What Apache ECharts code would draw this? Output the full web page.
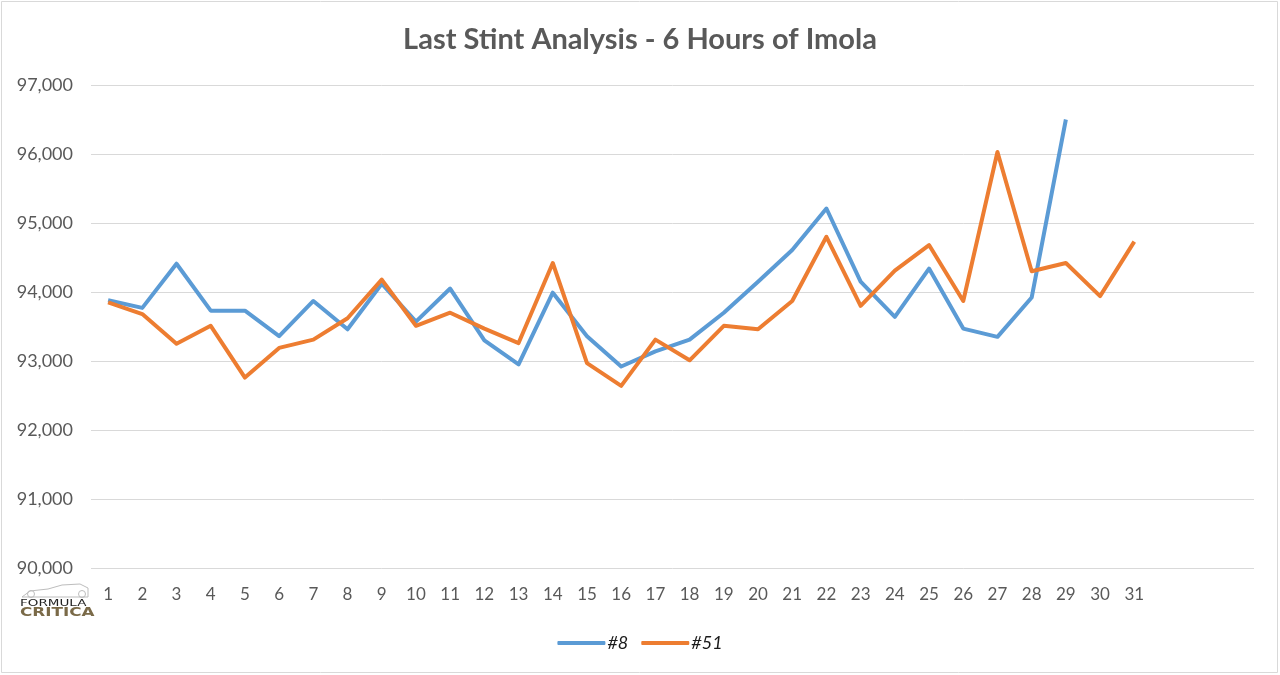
<!DOCTYPE html>
<html>
<head>
<meta charset="utf-8">
<title>Last Stint Analysis - 6 Hours of Imola</title>
<script src="https://cdn.jsdelivr.net/npm/echarts@6/dist/echarts.min.js"></script>
<style>
  html, body { margin: 0; padding: 0; background: #fff; }
  #chart { width: 1280px; height: 675px; }
</style>
</head>
<body>
<div id="chart"></div>
<script>
// laps of the last stint (the Excel range had three empty slots after lap 31)
const laps = ["1", "2", "3", "4", "5", "6", "7", "8", "9", "10", "11", "12", "13", "14", "15", "16",
  "17", "18", "19", "20", "21", "22", "23", "24", "25", "26", "27", "28", "29", "30", "31", "", "", ""];

// lap times (ms)
const car8 = [93880, 93770, 94410, 93730, 93730, 93360, 93870, 93460, 94120, 93570, 94050, 93300,
  92950, 93990, 93360, 92920, 93140, 93310, 93700, 94150, 94610, 95210, 94150, 93640, 94340,
  93470, 93350, 93920, 96500];
const car51 = [93850, 93680, 93250, 93510, 92760, 93190, 93310, 93620, 94180, 93510, 93700, 93470,
  93260, 94420, 92970, 92640, 93310, 93010, 93510, 93460, 93870, 94800, 93800, 94310, 94680,
  93870, 96030, 94300, 94420, 93940, 94730];

const yTicks = { min: 90000, max: 97000, step: 1000 };

const chart = echarts.init(document.getElementById("chart"));
const font = "Lato, 'Open Sans', sans-serif";

chart.setOption({
  backgroundColor: "#fff",
  animation: false,
  title: {
    text: "Last Stint Analysis - 6 Hours of Imola",
    left: "center",
    top: 20,
    textStyle: { fontFamily: font, fontSize: 29, fontWeight: "bold", color: "#595959" },
  },
  legend: {
    top: 629,
    left: "center",
    icon: "roundRect",
    itemWidth: 48,
    itemHeight: 4,
    itemGap: 13,
    textStyle: { fontFamily: font, fontSize: 18, fontStyle: "italic", color: "#1a1a1a", padding: [0, 0, 0, -3] },
    data: ["#8", "#51"],
  },
  grid: { left: 91, right: 26, top: 85, bottom: 107 },
  xAxis: {
    type: "category",
    boundaryGap: true,
    data: laps,
    axisLine: { show: false },
    axisTick: { show: false },
    axisLabel: { interval: 0, margin: 18, fontFamily: font, fontSize: 17, color: "#595959" },
  },
  yAxis: {
    type: "value",
    min: yTicks.min,
    max: yTicks.max,
    interval: yTicks.step,
    axisLine: { show: false },
    axisTick: { show: false },
    splitLine: { lineStyle: { color: "#d9d9d9", width: 1 } },
    axisLabel: {
      margin: 18,
      fontFamily: font,
      fontSize: 18,
      color: "#595959",
      formatter: (v) => v.toLocaleString("en-US"),
    },
  },
  series: [
    {
      name: "#8",
      type: "line",
      data: car8,
      showSymbol: false,
      lineStyle: { color: "#5b9bd5", width: 4, join: "round" },
      itemStyle: { color: "#5b9bd5" },
    },
    {
      name: "#51",
      type: "line",
      data: car51,
      showSymbol: false,
      lineStyle: { color: "#ed7d31", width: 4, join: "round" },
      itemStyle: { color: "#ed7d31" },
    },
  ],
  graphic: [
    {
      // chart frame
      type: "rect",
      shape: { x: 1.5, y: 1.5, width: 1276, height: 671 },
      style: { fill: null, stroke: "#d9d9d9", lineWidth: 1 },
      silent: true,
    },
    {
      // watermark: car outline
      type: "polyline",
      shape: { points: [[22, 597], [30, 591], [48, 589], [62, 585], [80, 584], [88, 588], [88, 597], [22, 597]] },
      style: { fill: null, stroke: "#bdbdbd", lineWidth: 1 },
      silent: true,
    },
    {
      type: "circle",
      shape: { cx: 31, cy: 594, r: 3.5 },
      style: { fill: null, stroke: "#bdbdbd", lineWidth: 1 },
      silent: true,
    },
    {
      type: "circle",
      shape: { cx: 82, cy: 594, r: 3.5 },
      style: { fill: null, stroke: "#bdbdbd", lineWidth: 1 },
      silent: true,
    },
    {
      // watermark text
      type: "text",
      x: 20,
      y: 599,
      scaleX: 1.5,
      style: { text: "FORMULA", fontFamily: "DejaVu Sans", fontSize: 9, fill: "#222" },
      silent: true,
    },
    {
      type: "text",
      x: 20,
      y: 607,
      scaleX: 1.4,
      style: { text: "CRITICA", fontFamily: "DejaVu Sans", fontSize: 12, fontWeight: "bold", fill: "#7a6a48" },
      silent: true,
    },
  ],
});

window.addEventListener("resize", function () {
  chart.resize();
});
</script>
</body>
</html>
